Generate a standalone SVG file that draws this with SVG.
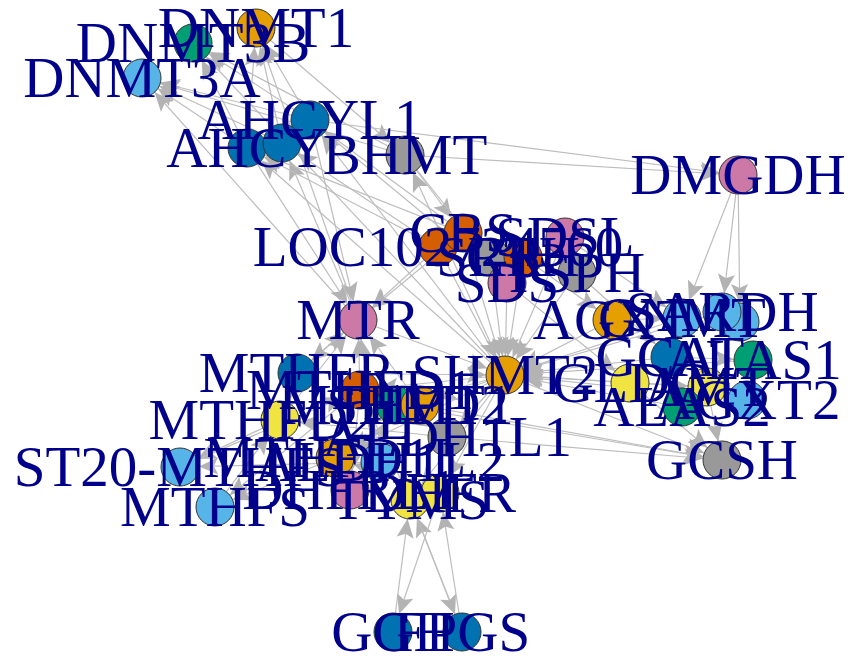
<svg xmlns="http://www.w3.org/2000/svg" width="854" height="658" viewBox="0 0 854 658">
<defs>
<marker id="arr" markerUnits="userSpaceOnUse" viewBox="-40 -10 42 20" refX="0" refY="0" markerWidth="42" markerHeight="20" orient="auto">
<path d="M-19,0 L-38,-8.5 L-34,0 L-38,8.5 Z" fill="#B3B3B3"/>
</marker>
<style>
.e line{stroke:#BDBDBD;stroke-width:1.2;marker-end:url(#arr)}
.node circle{stroke:#333;stroke-width:1;r:19px}
.lbl{font-family:"Liberation Serif","Times New Roman",serif;font-size:57px;fill:#00008B;text-anchor:middle}
</style>
</defs>
<rect width="854" height="658" fill="#fff"/>
<g id="edges" class="e">
<line x1="247" y1="148" x2="142" y2="78"/>
<line x1="247" y1="148" x2="193" y2="43"/>
<line x1="247" y1="148" x2="256" y2="28"/>
<line x1="310" y1="120" x2="142" y2="78"/>
<line x1="310" y1="120" x2="193" y2="43"/>
<line x1="310" y1="120" x2="256" y2="28"/>
<line x1="282" y1="143" x2="142" y2="78"/>
<line x1="282" y1="143" x2="256" y2="28"/>
<line x1="405" y1="155" x2="142" y2="78"/>
<line x1="405" y1="155" x2="193" y2="43"/>
<line x1="358" y1="320" x2="142" y2="78"/>
<line x1="358" y1="320" x2="256" y2="28"/>
<line x1="505" y1="375" x2="193" y2="43"/>
<line x1="256" y1="28" x2="405" y2="155"/>
<line x1="247" y1="148" x2="358" y2="320"/>
<line x1="310" y1="120" x2="358" y2="320"/>
<line x1="358" y1="320" x2="282" y2="143"/>
<line x1="463" y1="233" x2="247" y2="148"/>
<line x1="463" y1="233" x2="310" y2="120"/>
<line x1="438" y1="247" x2="247" y2="148"/>
<line x1="438" y1="247" x2="282" y2="143"/>
<line x1="507" y1="283" x2="310" y2="120"/>
<line x1="505" y1="375" x2="247" y2="148"/>
<line x1="505" y1="375" x2="310" y2="120"/>
<line x1="505" y1="375" x2="405" y2="155"/>
<line x1="405" y1="155" x2="463" y2="233"/>
<line x1="405" y1="155" x2="738" y2="175"/>
<line x1="310" y1="120" x2="738" y2="175"/>
<line x1="738" y1="175" x2="682" y2="318"/>
<line x1="738" y1="175" x2="722" y2="312"/>
<line x1="738" y1="175" x2="740" y2="322"/>
<line x1="297" y1="373" x2="358" y2="320"/>
<line x1="360" y1="390" x2="358" y2="320"/>
<line x1="420" y1="405" x2="358" y2="320"/>
<line x1="280" y1="420" x2="358" y2="320"/>
<line x1="438" y1="247" x2="358" y2="320"/>
<line x1="463" y1="233" x2="358" y2="320"/>
<line x1="358" y1="320" x2="505" y2="375"/>
<line x1="380" y1="462" x2="358" y2="320"/>
<line x1="358" y1="320" x2="297" y2="373"/>
<line x1="438" y1="247" x2="505" y2="375"/>
<line x1="463" y1="233" x2="505" y2="375"/>
<line x1="490" y1="257" x2="505" y2="375"/>
<line x1="523" y1="257" x2="505" y2="375"/>
<line x1="507" y1="283" x2="505" y2="375"/>
<line x1="565" y1="237" x2="505" y2="375"/>
<line x1="577" y1="273" x2="505" y2="375"/>
<line x1="612" y1="320" x2="505" y2="375"/>
<line x1="682" y1="318" x2="505" y2="375"/>
<line x1="722" y1="312" x2="505" y2="375"/>
<line x1="670" y1="357" x2="505" y2="375"/>
<line x1="630" y1="383" x2="505" y2="375"/>
<line x1="707" y1="387" x2="505" y2="375"/>
<line x1="753" y1="360" x2="505" y2="375"/>
<line x1="682" y1="407" x2="505" y2="375"/>
<line x1="747" y1="400" x2="505" y2="375"/>
<line x1="297" y1="373" x2="505" y2="375"/>
<line x1="405" y1="155" x2="507" y2="283"/>
<line x1="505" y1="375" x2="360" y2="390"/>
<line x1="505" y1="375" x2="395" y2="405"/>
<line x1="505" y1="375" x2="447" y2="437"/>
<line x1="505" y1="375" x2="410" y2="500"/>
<line x1="505" y1="375" x2="440" y2="493"/>
<line x1="505" y1="375" x2="420" y2="405"/>
<line x1="505" y1="375" x2="722" y2="460"/>
<line x1="505" y1="375" x2="335" y2="458"/>
<line x1="612" y1="320" x2="682" y2="318"/>
<line x1="670" y1="357" x2="753" y2="360"/>
<line x1="630" y1="383" x2="707" y2="387"/>
<line x1="707" y1="387" x2="722" y2="460"/>
<line x1="630" y1="383" x2="722" y2="460"/>
<line x1="447" y1="437" x2="722" y2="460"/>
<line x1="420" y1="405" x2="722" y2="460"/>
<line x1="395" y1="405" x2="722" y2="460"/>
<line x1="577" y1="273" x2="670" y2="357"/>
<line x1="565" y1="237" x2="682" y2="318"/>
<line x1="523" y1="257" x2="612" y2="320"/>
<line x1="507" y1="283" x2="630" y2="383"/>
<line x1="280" y1="420" x2="180" y2="467"/>
<line x1="360" y1="390" x2="215" y2="507"/>
<line x1="180" y1="467" x2="360" y2="390"/>
<line x1="215" y1="507" x2="280" y2="420"/>
<line x1="297" y1="373" x2="280" y2="420"/>
<line x1="335" y1="458" x2="215" y2="507"/>
<line x1="380" y1="462" x2="180" y2="467"/>
<line x1="360" y1="390" x2="350" y2="490"/>
<line x1="350" y1="490" x2="395" y2="405"/>
<line x1="410" y1="500" x2="360" y2="390"/>
<line x1="440" y1="493" x2="335" y2="458"/>
<line x1="395" y1="405" x2="447" y2="437"/>
<line x1="420" y1="405" x2="335" y2="458"/>
<line x1="447" y1="437" x2="280" y2="420"/>
<line x1="393" y1="632" x2="410" y2="500"/>
<line x1="462" y1="632" x2="410" y2="500"/>
<line x1="462" y1="632" x2="440" y2="493"/>
<line x1="440" y1="493" x2="393" y2="632"/>
<line x1="410" y1="500" x2="462" y2="632"/>
</g>
<g id="nodes">
<g id="node-DNMT1" class="node"><circle cx="256" cy="28" fill="#E69F00"/></g>
<g id="node-DNMT3B" class="node"><circle cx="193" cy="43" fill="#009E73"/></g>
<g id="node-DNMT3A" class="node"><circle cx="142" cy="78" fill="#56B4E9"/></g>
<g id="node-AHCYL1" class="node"><circle cx="310" cy="120" fill="#0072B2"/></g>
<g id="node-AHCY" class="node"><circle cx="247" cy="148" fill="#0072B2"/></g>
<g id="node-blue3" class="node"><circle cx="282" cy="143" fill="#0072B2"/></g>
<g id="node-BHMT" class="node"><circle cx="405" cy="155" fill="#999999"/></g>
<g id="node-DMGDH" class="node"><circle cx="738" cy="175" fill="#CC79A7"/></g>
<g id="node-LOC102724560" class="node"><circle cx="438" cy="247" fill="#D55E00"/></g>
<g id="node-CBS" class="node"><circle cx="463" cy="233" fill="#D55E00"/></g>
<g id="node-SRR" class="node"><circle cx="490" cy="257" fill="#999999"/></g>
<g id="node-CTH" class="node"><circle cx="523" cy="257" fill="#D55E00"/></g>
<g id="node-SDSL" class="node"><circle cx="565" cy="237" fill="#CC79A7"/></g>
<g id="node-PSPH" class="node"><circle cx="577" cy="273" fill="#999999"/></g>
<g id="node-SDS" class="node"><circle cx="507" cy="283" fill="#CC79A7"/></g>
<g id="node-MTR" class="node"><circle cx="358" cy="320" fill="#CC79A7"/></g>
<g id="node-AGXT" class="node"><circle cx="612" cy="320" fill="#E69F00"/></g>
<g id="node-GNMT" class="node"><circle cx="682" cy="318" fill="#56B4E9"/></g>
<g id="node-lb2" class="node"><circle cx="740" cy="322" fill="#56B4E9"/></g>
<g id="node-SARDH" class="node"><circle cx="722" cy="312" fill="#56B4E9"/></g>
<g id="node-GCAT" class="node"><circle cx="670" cy="357" fill="#0072B2"/></g>
<g id="node-ALAS1" class="node"><circle cx="753" cy="360" fill="#009E73"/></g>
<g id="node-GLDC" class="node"><circle cx="630" cy="383" fill="#F0E442"/></g>
<g id="node-AMT" class="node"><circle cx="707" cy="387" fill="#F0E442"/></g>
<g id="node-AGXT2" class="node"><circle cx="747" cy="400" fill="#56B4E9"/></g>
<g id="node-ALAS2" class="node"><circle cx="682" cy="407" fill="#009E73"/></g>
<g id="node-GCSH" class="node"><circle cx="722" cy="460" fill="#999999"/></g>
<g id="node-SHMT2" class="node"><circle cx="505" cy="375" fill="#E69F00"/></g>
<g id="node-MTHFR" class="node"><circle cx="297" cy="373" fill="#0072B2"/></g>
<g id="node-MTHFD1" class="node"><circle cx="360" cy="390" fill="#D55E00"/></g>
<g id="node-MTHFD2" class="node"><circle cx="395" cy="405" fill="#009E73"/></g>
<g id="node-SHMT1" class="node"><circle cx="420" cy="405" fill="#E69F00"/></g>
<g id="node-MTHFD2L" class="node"><circle cx="280" cy="420" fill="#F0E442"/></g>
<g id="node-ALDH1L1" class="node"><circle cx="447" cy="437" fill="#999999"/></g>
<g id="node-MTHFD1L" class="node"><circle cx="335" cy="458" fill="#E69F00"/></g>
<g id="node-ALDH1L2" class="node"><circle cx="380" cy="462" fill="#56B4E9"/></g>
<g id="node-ST20-MTHFS" class="node"><circle cx="180" cy="467" fill="#56B4E9"/></g>
<g id="node-MTHFS" class="node"><circle cx="215" cy="507" fill="#56B4E9"/></g>
<g id="node-DHFRL1" class="node"><circle cx="350" cy="490" fill="#CC79A7"/></g>
<g id="node-TYMS" class="node"><circle cx="410" cy="500" fill="#F0E442"/></g>
<g id="node-DHFR" class="node"><circle cx="440" cy="493" fill="#F0E442"/></g>
<g id="node-GGH" class="node"><circle cx="393" cy="632" fill="#0072B2"/></g>
<g id="node-FPGS" class="node"><circle cx="462" cy="632" fill="#0072B2"/></g>
</g>
<g id="labels" class="lbl">
<text x="256" y="47">DNMT1</text>
<text x="193" y="62">DNMT3B</text>
<text x="142" y="97">DNMT3A</text>
<text x="310" y="139">AHCYL1</text>
<text x="247" y="167">AHCY</text>
<text x="405" y="174">BHMT</text>
<text x="738" y="194">DMGDH</text>
<text x="438" y="266">LOC102724560</text>
<text x="463" y="252">CBS</text>
<text x="490" y="276">SRR</text>
<text x="523" y="276">CTH</text>
<text x="565" y="256">SDSL</text>
<text x="577" y="292">PSPH</text>
<text x="507" y="302">SDS</text>
<text x="358" y="339">MTR</text>
<text x="612" y="339">AGXT</text>
<text x="682" y="337">GNMT</text>
<text x="722" y="331">SARDH</text>
<text x="670" y="376">GCAT</text>
<text x="753" y="379">ALAS1</text>
<text x="630" y="402">GLDC</text>
<text x="707" y="406">AMT</text>
<text x="747" y="419">AGXT2</text>
<text x="682" y="426">ALAS2</text>
<text x="722" y="479">GCSH</text>
<text x="505" y="394">SHMT2</text>
<text x="297" y="392">MTHFR</text>
<text x="360" y="409">MTHFD1</text>
<text x="395" y="424">MTHFD2</text>
<text x="420" y="424">SHMT1</text>
<text x="280" y="439">MTHFD2L</text>
<text x="447" y="456">ALDH1L1</text>
<text x="335" y="477">MTHFD1L</text>
<text x="380" y="481">ALDH1L2</text>
<text x="180" y="486">ST20-MTHFS</text>
<text x="215" y="526">MTHFS</text>
<text x="350" y="509">DHFRL1</text>
<text x="410" y="519">TYMS</text>
<text x="440" y="512">DHFR</text>
<text x="393" y="651">GGH</text>
<text x="462" y="651">FPGS</text>
</g>
</svg>
